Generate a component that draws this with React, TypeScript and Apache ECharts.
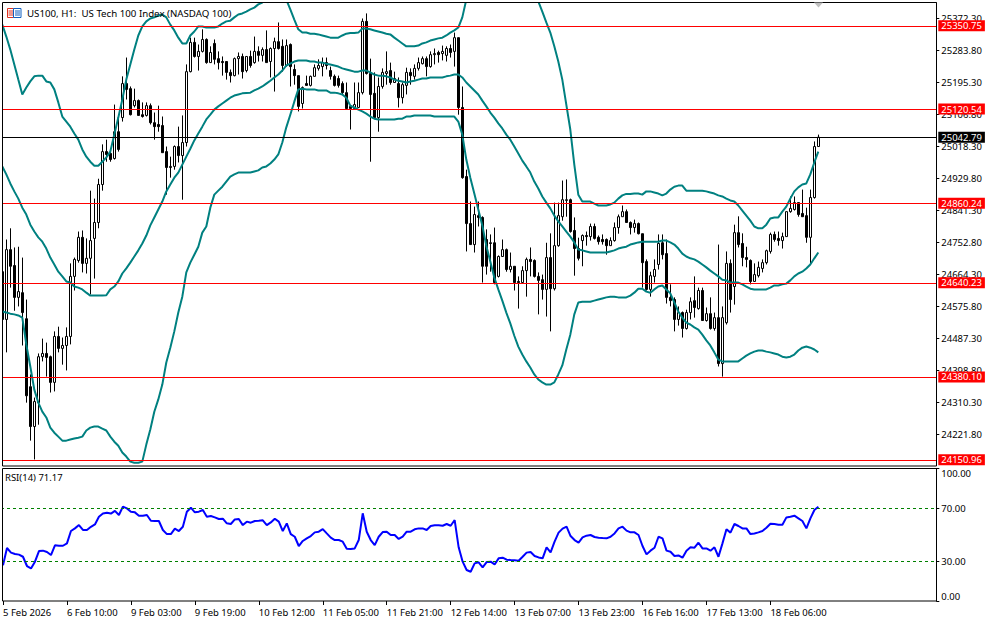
import React, { useEffect, useRef } from "react";
import * as echarts from "echarts";

const FONT = "'Noto Sans', 'DejaVu Sans', sans-serif";
const titleText = "US100, H1:  US Tech 100 Index (NASDAQ 100)";
const rsiText = "RSI(14) 71.17";

const timeLabels = ["5 Feb 2026","6 Feb 10:00","9 Feb 03:00","9 Feb 19:00","10 Feb 12:00","11 Feb 05:00","11 Feb 21:00","12 Feb 14:00","13 Feb 07:00","13 Feb 23:00","16 Feb 16:00","17 Feb 13:00","18 Feb 06:00"];
const priceTicks = [25372.3,25283.8,25195.3,25106.8,25018.3,24929.8,24841.3,24752.8,24664.3,24575.8,24487.3,24398.8,24310.3,24221.8];
const rsiTicks = [100,70,30,0];
const redLevels = [25350.75,25120.54,24860.24,24640.23,24380.1,24150.96];
const currentPrice = 25042.79;
const rsiLevels = [70,30];

// open, close, low, high
const candles = [
[24671,24539,24533,24677],[24539,24732,24448,24760],[24732,24686,24627,24791],[24688,24600,24563,24738],[24600,24616,24575,24740],
[24613,24558,24467,24710],[24541,24328,24309,24594],[24353,24243,24204,24387],[24243,24312,24152,24323],[24309,24436,24248,24445],
[24436,24445,24423,24486],[24445,24434,24381,24475],[24436,24365,24337,24439],[24365,24492,24340,24506],[24492,24459,24448,24519],
[24459,24467,24414,24489],[24467,24492,24398,24517],[24492,24658,24470,24694],[24658,24705,24619,24710],[24702,24766,24696,24782],
[24766,24694,24669,24785],[24694,24708,24666,24763],[24708,24757,24608,24895],[24763,24807,24652,24873],[24807,24912,24791,24928],
[24912,25003,24895,25023],[25003,24995,24975,25036],[24998,24981,24975,25009],[24984,25058,24981,25133],[25058,25009,25003,25100],
[25097,25191,25086,25211],[25191,25175,25147,25263],[25177,25105,25103,25183],[25130,25144,25125,25177],[25144,25103,25103,25147],
[25105,25100,25097,25139],[25103,25130,25100,25139],[25130,25083,25078,25136],[25083,25072,25036,25111],[25078,25072,25058,25130],
[25075,25000,25000,25100],[25003,24959,24884,25017],[24959,24962,24931,24989],[24962,25017,24953,25020],[25017,24992,24973,25072],
[24992,25028,24870,25103],[25028,25224,25017,25244],[25224,25305,25222,25318],[25305,25266,25263,25318],[25266,25280,25227,25299],
[25280,25313,25277,25341],[25313,25249,25246,25316],[25249,25277,25249,25294],[25302,25258,25244,25313],[25260,25249,25230,25280],
[25252,25249,25213,25266],[25252,25222,25202,25252],[25222,25213,25194,25230],[25213,25260,25211,25263],[25260,25266,25216,25277],
[25266,25224,25205,25274],[25227,25266,25222,25266],[25266,25241,25235,25282],[25249,25280,25246,25321],[25280,25269,25252,25294],
[25269,25285,25252,25291],[25285,25249,25249,25338],[25252,25288,25208,25291],[25288,25307,25169,25318],[25307,25288,25285,25360],
[25294,25241,25224,25313],[25241,25296,25238,25313],[25299,25238,25183,25302],[25230,25213,25188,25244],[25213,25128,25114,25213],
[25136,25180,25122,25183],[25191,25186,25186,25213],[25186,25211,25183,25213],[25211,25235,25211,25244],[25233,25241,25227,25258],
[25238,25249,25211,25263],[25249,25241,25230,25263],[25227,25211,25202,25238],[25211,25186,25183,25216],[25205,25186,25180,25213],
[25191,25166,25161,25197],[25166,25122,25122,25194],[25128,25122,25064,25128],[25122,25133,25122,25194],[25125,25166,25125,25194],
[25166,25363,25161,25371],[25363,25219,25216,25385],[25219,25161,24975,25260],[25164,25097,25094,25222],[25097,25183,25058,25208],
[25183,25222,25177,25233],[25219,25224,25188,25280],[25227,25194,25188,25249],[25194,25205,25194,25224],[25191,25152,25125,25208],
[25152,25188,25136,25194],[25186,25222,25161,25235],[25222,25213,25188,25233],[25211,25233,25202,25244],[25233,25249,25227,25263],
[25246,25260,25244,25266],[25260,25238,25211,25266],[25238,25271,25235,25280],[25271,25274,25244,25288],[25277,25271,25249,25282],
[25274,25280,25255,25296],[25269,25288,25252,25294],[25288,25277,25263,25299],[25280,25318,25238,25332],[25318,25125,25105,25318],
[25125,24931,24928,25183],[24934,24804,24727,24953],[24804,24746,24746,24865],[24746,24829,24724,24851],[24826,24821,24796,24865],
[24821,24686,24641,24824],[24760,24686,24663,24788],[24751,24749,24671,24774],[24751,24641,24636,24793],[24658,24713,24655,24716],
[24713,24732,24713,24760],[24732,24677,24671,24735],[24677,24686,24669,24724],[24686,24641,24619,24686],[24644,24641,24569,24658],
[24641,24674,24638,24686],[24674,24705,24602,24710],[24705,24699,24658,24738],[24702,24658,24655,24705],[24658,24647,24553,24669],
[24649,24622,24594,24663],[24622,24710,24547,24751],[24710,24624,24506,24777],[24624,24743,24619,24862],[24743,24826,24740,24862],
[24823,24870,24812,24923],[24868,24870,24823,24926],[24870,24782,24779,24873],[24785,24735,24660,24821],[24735,24708,24702,24765],
[24757,24771,24686,24774],[24771,24768,24743,24782],[24768,24796,24757,24804],[24796,24763,24760,24804],[24766,24754,24746,24771],
[24760,24754,24746,24774],[24760,24743,24718,24763],[24743,24757,24743,24766],[24757,24793,24754,24807],[24793,24823,24776,24829],
[24823,24837,24823,24854],[24837,24807,24807,24843],[24807,24793,24774,24810],[24793,24804,24779,24815],[24804,24776,24774,24807],
[24776,24696,24627,24776],[24699,24622,24619,24705],[24622,24660,24602,24671],[24658,24677,24641,24705],[24691,24749,24677,24774],
[24751,24718,24705,24774],[24721,24600,24583,24760],[24600,24591,24575,24636],[24594,24539,24506,24600],[24539,24558,24522,24575],
[24558,24514,24489,24561],[24514,24558,24511,24566],[24558,24588,24539,24600],[24591,24572,24544,24658],[24569,24619,24566,24627],
[24619,24536,24536,24627],[24536,24555,24533,24572],[24555,24514,24511,24600],[24514,24544,24508,24558],[24544,24417,24409,24746],
[24417,24544,24381,24575],[24530,24694,24525,24727],[24694,24594,24558,24705],[24630,24779,24580,24801],[24779,24746,24738,24824],
[24749,24710,24686,24777],[24710,24705,24683,24740],[24702,24644,24636,24705],[24644,24663,24644,24694],[24660,24683,24655,24699],
[24680,24696,24669,24705],[24696,24729,24691,24732],[24727,24774,24721,24779],[24774,24760,24754,24782],[24763,24757,24743,24782],
[24757,24768,24735,24779],[24768,24837,24768,24837],[24837,24846,24834,24879],[24843,24862,24840,24879],[24862,24829,24823,24862],
[24832,24823,24823,24898],[24826,24766,24751,24848],[24766,24876,24691,24898],[24876,25017,24873,25031],[25017,25042.79,25017,25050],
];

const bandUpper = [
25354,25321,25285,25244,25202,25161,25180,25197,25211,25213,
25213,25197,25194,25175,25139,25100,25086,25072,25053,25036,
25009,24989,24975,24964,24964,24975,24987,25003,25050,25097,
25147,25202,25244,25285,25324,25349,25363,25371,25374,25379,
25382,25374,25354,25338,25318,25302,25302,25324,25335,25349,
25349,25346,25346,25346,25349,25357,25363,25365,25374,25382,
25385,25390,25396,25401,25410,25415,25423,25429,25432,25432,
25429,25423,25396,25368,25341,25332,25332,25329,25329,25327,
25324,25321,25318,25318,25318,25324,25329,25331,25331,25332,
25343,25343,25341,25338,25335,25332,25329,25327,25318,25310,
25302,25294,25294,25294,25296,25302,25305,25310,25313,25316,
25318,25324,25332,25338,25346,25374,25423,25493,25562,25617,
25658,25686,25714,25728,25741,25750,25750,25741,25714,25672,
25631,25576,25520,25465,25418,25390,25360,25332,25294,25252,
25202,25133,25064,24967,24884,24865,24865,24865,24859,24854,
24854,24854,24857,24862,24873,24882,24886,24886,24887,24887,
24884,24893,24893,24890,24887,24882,24887,24898,24906,24909,
24909,24895,24895,24895,24895,24895,24893,24890,24887,24882,
24879,24873,24868,24865,24854,24840,24826,24812,24796,24791,
24791,24801,24818,24821,24821,24837,24851,24873,24893,24904,
24912,24915,24940,24973,25003,
];
const bandMiddle = [
24962,24940,24915,24893,24873,24848,24829,24801,24782,24766,
24754,24735,24710,24691,24671,24658,24644,24641,24630,24627,
24622,24613,24605,24605,24605,24605,24606,24622,24630,24644,
24666,24680,24696,24713,24730,24749,24771,24799,24821,24843,
24865,24893,24912,24931,24945,24967,24989,25011,25034,25053,
25072,25092,25105,25119,25128,25136,25144,25152,25158,25161,
25164,25165,25166,25172,25177,25183,25191,25199,25208,25216,
25227,25241,25246,25252,25255,25255,25255,25252,25252,25249,
25249,25246,25244,25241,25238,25233,25230,25227,25224,25224,
25227,25227,25222,25216,25213,25213,25211,25208,25202,25199,
25197,25194,25197,25199,25202,25205,25205,25208,25208,25208,
25208,25211,25213,25216,25216,25208,25194,25183,25172,25161,
25144,25128,25111,25097,25081,25067,25050,25036,25017,24998,
24978,24962,24945,24920,24901,24879,24862,24846,24826,24810,
24796,24782,24768,24752,24732,24730,24727,24724,24724,24724,
24724,24724,24727,24730,24735,24738,24740,24746,24749,24752,
24754,24754,24754,24754,24754,24757,24757,24752,24746,24735,
24721,24713,24708,24705,24699,24691,24683,24674,24666,24658,
24649,24647,24641,24641,24641,24636,24630,24624,24622,24622,
24622,24622,24627,24633,24633,24636,24638,24647,24658,24666,
24671,24680,24691,24708,24724,
];
const bandLower = [
24561,24558,24555,24553,24550,24544,24470,24409,24345,24309,
24284,24268,24240,24226,24215,24204,24204,24207,24210,24212,
24215,24232,24240,24243,24243,24237,24232,24215,24201,24190,
24171,24160,24146,24143,24143,24146,24193,24235,24284,24318,
24359,24420,24461,24506,24558,24602,24669,24696,24718,24740,
24779,24796,24848,24884,24895,24906,24920,24934,24940,24945,
24945,24945,24945,24948,24951,24959,24962,24970,24981,24995,
25028,25070,25105,25141,25175,25177,25175,25175,25175,25172,
25172,25172,25166,25166,25164,25161,25152,25130,25125,25119,
25114,25108,25100,25094,25092,25092,25092,25092,25092,25094,
25094,25100,25100,25103,25103,25103,25103,25103,25100,25100,
25100,25100,25100,25100,25086,25050,24981,24931,24887,24843,
24799,24743,24699,24655,24622,24591,24558,24528,24494,24464,
24442,24423,24406,24387,24373,24365,24359,24359,24365,24387,
24412,24456,24497,24553,24586,24588,24588,24588,24591,24594,
24597,24600,24602,24602,24600,24600,24600,24605,24613,24624,
24624,24616,24613,24622,24630,24633,24622,24611,24586,24561,
24544,24530,24525,24517,24511,24497,24481,24467,24448,24428,
24423,24423,24423,24423,24423,24431,24439,24445,24450,24453,
24453,24450,24448,24445,24442,24436,24434,24436,24442,24453,
24461,24464,24461,24456,24448,
];
const rsiValues = [
27,40,36.5,35.5,35,33.4,26.4,24.6,29.7,37.7,
38,37,34.7,42,41.7,41.7,43.5,52.8,54.8,57.3,
53.6,53.6,56,57.8,63.6,66,66.6,66,68,64.9,
71.2,69.9,67.4,66.9,64.4,64.4,64.9,60.6,60.4,60.4,
53.6,50.5,50.5,54.6,52.8,56,67.4,70.4,66.9,67.4,
68.7,63.6,64.1,63.1,61.9,62.1,58.6,58.1,61.6,61.9,
57.3,59.9,59.1,60.4,60.6,60.9,57.3,59.3,62.1,59.9,
52.8,58.6,50.5,48.5,41.5,45.3,47.3,49,51.8,52.3,
54.3,51,47.8,46,46,44.8,39.5,39.2,39.7,46,
66.2,52.3,46,42.2,48.5,52,52.3,49.8,49.8,46.8,
48.5,52.3,52.3,54.1,54.8,54.8,53.6,56.6,57.1,57.1,
56.8,58.1,56.8,61.1,40.5,29.7,23.4,22.1,28.4,29.2,
25.4,29.4,29.7,27.6,32.2,32.7,31.2,30.9,30.7,30.4,
33.4,36.5,37,34,32.9,32.2,40.5,36.7,44.8,51.6,
54.6,56.1,49,46,44,48,49.3,49.8,48.3,47.8,
47.5,47.3,48.5,51,54.8,56.1,53.1,51.8,51.8,49.8,
41.5,35.2,38,40.2,48.5,47.3,38,37.2,34,34.4,
32.7,38,40.5,40.2,44,39.7,39.7,38,40.5,33.4,
43.5,54.1,51.6,58.1,56.6,54.8,54.8,50.5,51,51.8,
52.8,55.3,58.3,58.1,57.6,57.6,63.1,63.6,64.4,62.4,
60.4,54.8,62.4,68.7,71.17,
];

const SLOT_COUNT = 234;
const LABEL_STEP = 16;
const categories = Array.from({ length: SLOT_COUNT }, (_, i) =>
  i % LABEL_STEP === 0 && timeLabels[i / LABEL_STEP] ? timeLabels[i / LABEL_STEP] : ""
);
const labelShown = (i: number) => i % LABEL_STEP === 0 && !!timeLabels[i / LABEL_STEP];

const priceLabel = (bg: string, fixed: number) => ({
  show: true,
  position: "end" as const,
  distance: 2,
  formatter: fixed.toFixed(2),
  color: "#fff",
  backgroundColor: bg,
  padding: [1, 3, 0, 3],
  fontFamily: FONT,
  fontSize: 9.5,
  lineHeight: 10,
});

const bandSeries = (name: string, data: number[]) => ({
  name,
  type: "line",
  xAxisIndex: 0,
  yAxisIndex: 0,
  data,
  symbol: "none",
  lineStyle: { color: "#008080", width: 2 },
  silent: true,
});

const rsiTickLabel = (v: number) => {
  const text = v.toFixed(2);
  if (v === 100) return `{top|${text}}`;
  if (v === 0) return `{bottom|${text}}`;
  return text;
};

export default function App() {
  const ref = useRef<HTMLDivElement>(null);
  useEffect(() => {
    if (!ref.current) return;
    const chart = echarts.init(ref.current, undefined, { renderer: "svg" });
    chart.setOption({
      animation: false,
      backgroundColor: "#fff",
      textStyle: { fontFamily: FONT },
      grid: [
        { left: 0.3, top: 1.8, width: 936, height: 463.5 },
        { left: 0.3, top: 468.5, width: 936, height: 132.5 },
      ],
      xAxis: [
        { type: "category", gridIndex: 0, data: categories, show: false },
        {
          type: "category",
          gridIndex: 1,
          data: categories,
          axisLine: { show: false },
          axisTick: { show: true, length: 4, alignWithLabel: true, interval: (i: number) => labelShown(i), lineStyle: { color: "#000" } },
          axisLabel: {
            show: true,
            interval: (i: number) => labelShown(i),
            align: "left",
            margin: 6,
            color: "#000",
            fontFamily: FONT,
            fontSize: 9.5,
            hideOverlap: false,
          },
          splitLine: { show: false },
        },
      ],
      yAxis: [
        {
          type: "value",
          gridIndex: 0,
          position: "right",
          min: 24135.8,
          max: 25417.1,
          scale: true,
          axisLine: { show: true, lineStyle: { color: "#000" } },
          axisTick: { show: true, length: 3, customValues: priceTicks, lineStyle: { color: "#000" } },
          axisLabel: {
            show: true,
            customValues: priceTicks,
            margin: 5,
            color: "#000",
            fontFamily: FONT,
            fontSize: 9.5,
            formatter: (v: number) => v.toFixed(2),
          },
          splitLine: { show: false },
        },
        {
          type: "value",
          gridIndex: 1,
          position: "right",
          min: 0,
          max: 100,
          axisLine: { show: true, lineStyle: { color: "#000" } },
          axisTick: { show: true, length: 3, customValues: rsiTicks, lineStyle: { color: "#000" } },
          axisLabel: {
            show: true,
            customValues: rsiTicks,
            margin: 5,
            color: "#000",
            fontFamily: FONT,
            fontSize: 9.5,
            formatter: rsiTickLabel,
            rich: {
              top: { padding: [9, 0, 0, 0], fontFamily: FONT, fontSize: 9.5, color: "#000" },
              bottom: { padding: [0, 0, 9, 0], fontFamily: FONT, fontSize: 9.5, color: "#000" },
            },
          },
          splitLine: { show: false },
        },
      ],
      series: [
        {
          name: "US100",
          type: "candlestick",
          xAxisIndex: 0,
          yAxisIndex: 0,
          data: candles,
          barWidth: 3,
          silent: true,
          itemStyle: { color: "#fff", color0: "#000", borderColor: "#000", borderColor0: "#000", borderWidth: 1 },
          markLine: {
            silent: true,
            symbol: "none",
            animation: false,
            data: [
              ...redLevels.map((v) => ({ yAxis: v, lineStyle: { color: "#ff0000", width: 1, type: "solid" }, label: priceLabel("#ff0000", v) })),
              { yAxis: currentPrice, lineStyle: { color: "#000", width: 1, type: "solid" }, label: priceLabel("#000", currentPrice) },
            ],
          },
        },
        bandSeries("Upper", bandUpper),
        bandSeries("Middle", bandMiddle),
        bandSeries("Lower", bandLower),
        {
          name: "RSI",
          type: "line",
          xAxisIndex: 1,
          yAxisIndex: 1,
          data: rsiValues,
          symbol: "none",
          silent: true,
          lineStyle: { color: "#0000ff", width: 2 },
          markLine: {
            silent: true,
            symbol: "none",
            animation: false,
            label: { show: false },
            lineStyle: { color: "#008000", width: 1, type: [3, 3] },
            data: rsiLevels.map((v) => ({ yAxis: v })),
          },
        },
      ],
      graphic: [
        { type: "rect", z: 50, shape: { x: 0, y: 0, width: 2.5, height: 601 }, style: { fill: "#fff" } },
        { type: "rect", z: 50, shape: { x: 0, y: 0, width: 994, height: 2.5 }, style: { fill: "#fff" } },
        { type: "rect", z: 51, shape: { x: 2.5, y: 2.5, width: 934, height: 463.5 }, style: { fill: "none", stroke: "#000", lineWidth: 1 } },
        { type: "rect", z: 51, shape: { x: 2.5, y: 468.5, width: 934, height: 132.5 }, style: { fill: "none", stroke: "#000", lineWidth: 1 } },
        { type: "polygon", z: 51, shape: { points: [[814, 2.5], [823, 2.5], [818.5, 7.5]] }, style: { fill: "#c0c0c0" } },
        { type: "rect", z: 52, shape: { x: 7.5, y: 8.5, width: 6, height: 9 }, style: { fill: "#fff", stroke: "#e0301e", lineWidth: 1 } },
        { type: "rect", z: 52, shape: { x: 13.5, y: 8.5, width: 7.5, height: 9 }, style: { fill: "#fff", stroke: "#1060c0", lineWidth: 1 } },
        { type: "line", z: 53, shape: { x1: 8.5, y1: 11, x2: 13, y2: 11 }, style: { stroke: "#e0301e", lineWidth: 1 } },
        { type: "line", z: 53, shape: { x1: 8.5, y1: 13, x2: 13, y2: 13 }, style: { stroke: "#e0301e", lineWidth: 1 } },
        { type: "line", z: 53, shape: { x1: 8.5, y1: 15, x2: 13, y2: 15 }, style: { stroke: "#e0301e", lineWidth: 1 } },
        { type: "line", z: 53, shape: { x1: 15, y1: 11, x2: 20, y2: 11 }, style: { stroke: "#1060c0", lineWidth: 1 } },
        { type: "line", z: 53, shape: { x1: 15, y1: 13, x2: 20, y2: 13 }, style: { stroke: "#1060c0", lineWidth: 1 } },
        { type: "line", z: 53, shape: { x1: 15, y1: 15, x2: 20, y2: 15 }, style: { stroke: "#1060c0", lineWidth: 1 } },
        { type: "text", z: 54, style: { x: 27, y: 13, text: titleText, fill: "#000", font: `9.7px ${FONT}`, textVerticalAlign: "middle" } },
        { type: "text", z: 54, style: { x: 5, y: 477, text: rsiText, fill: "#000", font: `9.5px ${FONT}`, textVerticalAlign: "middle" } },
      ],
    });
    return () => chart.dispose();
  }, []);
  return <div ref={ref} style={{ position: "absolute", left: 0, top: 0, width: 994, height: 622 }} />;
}
